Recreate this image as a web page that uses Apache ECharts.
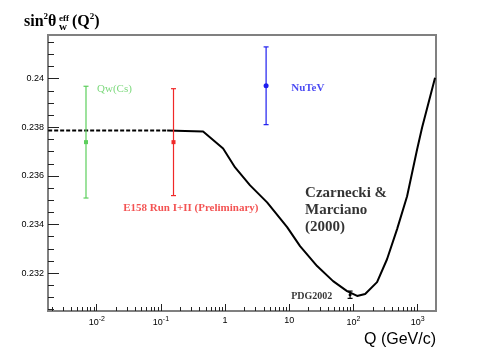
<!DOCTYPE html>
<html>
<head>
<meta charset="utf-8">
<script src="https://cdn.jsdelivr.net/npm/echarts@6/dist/echarts.min.js"></script>
<style>
html, body { margin: 0; padding: 0; background: #fff; }
#main { width: 485px; height: 348px; }
</style>
</head>
<body>
<div id="main"></div>
<script>
// running of sin^2 theta_W (Czarnecki & Marciano 2000), Q in GeV/c
var curveQ = [0.00175, 0.125, 0.454, 0.931, 1.43, 2.45, 4.51, 9.25, 14.7, 27.1, 48.1, 79.4, 114, 152, 233, 333, 478, 684, 979, 1172, 1866];
var curveV = [0.23787, 0.23787, 0.23783, 0.23713, 0.23635, 0.23561, 0.23491, 0.23389, 0.23311, 0.23229, 0.23167, 0.23126, 0.23106, 0.23114, 0.23163, 0.23257, 0.23381, 0.23516, 0.23709, 0.23799, 0.24004];
var dashedUntil = 0.125; // extrapolated part drawn dashed

// measurements
var pointName = ['Qw(Cs)', 'E158', 'NuTeV', 'PDG2002'];
var pointQ = [0.0068, 0.157, 4.35, 88.5];
var pointV = [0.23739, 0.23739, 0.23971, 0.23111];
var pointErr = [0.0023, 0.0022, 0.0016, 0.00015];
var pointColor = ['#5ccf5c', '#f02828', '#1c1cf0', '#000000'];
var pointShape = ['square', 'square', 'circle', 'circle'];

// annotations (anchor = left/middle of text)
var noteText = ['Qw(Cs)', 'E158 Run I+II (Preliminary)', 'NuTeV', 'Czarnecki &\nMarciano\n(2000)', 'PDG2002'];
var noteQ = [0.0101, 0.0258, 10.7, 17.6, 10.7];
var noteV = [0.23959, 0.23467, 0.23963, 0.23458, 0.23106];
var noteStyle = ['qw', 'e158', 'nutev', 'cm', 'pdg'];

// axes
var xMin = 0.00174, xMax = 1930;
var yMin = 0.23044, yMax = 0.2418;
var xMajor = [-2, -1, 0, 1, 2, 3];
var yMajor = [0.232, 0.234, 0.236, 0.238, 0.240];
var yLabels = ['0.232', '0.234', '0.236', '0.238', '0.24'];

var lg = function(q) { return Math.log10(q); };

var xMinor = [];
for (var n = -3; n <= 3; n++) {
  for (var k = 2; k <= 9; k++) {
    var t = lg(k) + n;
    if (t > lg(xMin) && t < lg(xMax)) xMinor.push(t);
  }
}
var yMinor = [];
for (var i = 0; i < 23; i++) {
  var y = +(0.2305 + i * 0.0005).toFixed(4);
  if (y < yMax && yMajor.indexOf(y) < 0) yMinor.push(y);
}

var dashData = [], solidData = [];
for (var i = 0; i < curveQ.length; i++) {
  if (curveQ[i] <= dashedUntil) dashData.push([lg(curveQ[i]), curveV[i]]);
  if (curveQ[i] >= dashedUntil) solidData.push([lg(curveQ[i]), curveV[i]]);
}
var barData = pointQ.map(function(q, i) { return [lg(q), pointV[i], pointErr[i]]; });
var noteData = noteText.map(function(t, i) { return { value: [lg(noteQ[i]), noteV[i]], name: t, style: noteStyle[i] }; });

var serif = 'Liberation Serif';
var sans = 'Liberation Sans';
var chart = echarts.init(document.getElementById('main'));

var tickStyle = { color: '#222', width: 1 };

option = {
  animation: false,
  grid: { left: 48, top: 35, right: 49, bottom: 36, show: true, borderColor: '#808080', borderWidth: 2 },
  graphic: [
    {
      type: 'text', left: 24, top: 12,
      style: {
        text: '{m|sin}{s|2}{m|θ}',
        rich: {
          m: { fontFamily: serif, fontWeight: 'bold', fontSize: 16, lineHeight: 20, fill: '#000' },
          s: { fontFamily: serif, fontWeight: 'bold', fontSize: 9, lineHeight: 20, verticalAlign: 'top', padding: [0, 0, 9, 0], fill: '#000' }
        }
      }
    },
    { type: 'text', left: 59, top: 14, style: { text: 'eff', font: 'bold 9px ' + serif, fill: '#000' } },
    { type: 'text', left: 59, top: 22, style: { text: 'w', font: 'bold 11px ' + serif, fill: '#000' } },
    {
      type: 'text', left: 72, top: 12,
      style: {
        text: '{m|(Q}{s|2}{m|)}',
        rich: {
          m: { fontFamily: serif, fontWeight: 'bold', fontSize: 16, lineHeight: 20, fill: '#000' },
          s: { fontFamily: serif, fontWeight: 'bold', fontSize: 9, lineHeight: 20, verticalAlign: 'top', padding: [0, 0, 9, 0], fill: '#000' }
        }
      }
    }
  ],
  xAxis: [
    {
      type: 'value', min: lg(xMin), max: lg(xMax),
      name: 'Q (GeV/c)', nameLocation: 'end', nameGap: 0,
      nameTextStyle: { fontFamily: sans, fontSize: 16, color: '#000', align: 'right', verticalAlign: 'top', padding: [21, 0, 0, 0] },
      axisLine: { show: true, onZero: false, lineStyle: { color: '#808080', width: 2 } },
      axisTick: { show: true, inside: true, length: 7, customValues: xMajor, lineStyle: tickStyle },
      splitLine: { show: false },
      axisLabel: {
        customValues: xMajor, margin: 5, color: '#000', fontFamily: sans, fontSize: 9,
        formatter: function(v) {
          if (v === 0) return '1';
          if (v === 1) return '10';
          return '10{s|' + v + '}';
        },
        rich: { s: { fontSize: 7, fontFamily: sans, color: '#000', verticalAlign: 'top', padding: [0, 0, 6, 0] } }
      }
    },
    {
      type: 'value', min: lg(xMin), max: lg(xMax), position: 'bottom',
      axisLine: { show: false, onZero: false },
      axisTick: { show: true, inside: true, length: 4, customValues: xMinor, lineStyle: tickStyle },
      axisLabel: { show: false }, splitLine: { show: false }
    }
  ],
  yAxis: [
    {
      type: 'value', min: yMin, max: yMax,
      axisLine: { show: true, onZero: false, lineStyle: { color: '#808080', width: 2 } },
      axisTick: { show: true, inside: true, length: 11, customValues: yMajor, lineStyle: tickStyle },
      splitLine: { show: false },
      axisLabel: {
        customValues: yMajor, margin: 4, color: '#000', fontFamily: sans, fontSize: 9,
        formatter: function(v) { return yLabels[yMajor.indexOf(+v.toFixed(3))]; }
      }
    },
    {
      type: 'value', min: yMin, max: yMax, position: 'left',
      axisLine: { show: false, onZero: false },
      axisTick: { show: true, inside: true, length: 6, customValues: yMinor, lineStyle: tickStyle },
      axisLabel: { show: false }, splitLine: { show: false }
    }
  ],
  series: [
    {
      type: 'line', data: dashData, showSymbol: false, z: 3,
      lineStyle: { color: '#000', width: 2, type: [4, 2] }
    },
    {
      type: 'line', data: solidData, showSymbol: false, z: 3,
      lineStyle: { color: '#000', width: 2 }
    },
    {
      type: 'custom',
      data: barData,
      z: 4,
      renderItem: function(params, api) {
        var c = api.coord([api.value(0), api.value(1)]);
        var top = api.coord([api.value(0), api.value(1) + api.value(2)]);
        var bot = api.coord([api.value(0), api.value(1) - api.value(2)]);
        var col = pointColor[params.dataIndex];
        var cap = 2.5;
        var st = { stroke: col, lineWidth: 1.2 };
        var marker = pointShape[params.dataIndex] === 'square'
          ? { type: 'rect', shape: { x: c[0] - 2, y: c[1] - 2, width: 4, height: 4 }, style: { fill: col } }
          : { type: 'circle', shape: { cx: c[0], cy: c[1], r: params.dataIndex === 3 ? 1.5 : 2.5 }, style: { fill: col } };
        return {
          type: 'group',
          children: [
            { type: 'line', shape: { x1: c[0], y1: top[1], x2: c[0], y2: bot[1] }, style: st },
            { type: 'line', shape: { x1: c[0] - cap, y1: top[1], x2: c[0] + cap, y2: top[1] }, style: st },
            { type: 'line', shape: { x1: c[0] - cap, y1: bot[1], x2: c[0] + cap, y2: bot[1] }, style: st },
            marker
          ]
        };
      }
    },
    {
      type: 'scatter', data: noteData, symbolSize: 0, z: 5, silent: true,
      label: {
        show: true, position: [0, 0], align: 'left', verticalAlign: 'middle',
        formatter: function(p) { return '{' + p.data.style + '|' + p.name.split('\n').join('}\n{' + p.data.style + '|') + '}'; },
        rich: {
          qw: { fontFamily: serif, fontSize: 11, color: '#5ccf5c' },
          e158: { fontFamily: serif, fontWeight: 'bold', fontSize: 11, color: '#f02828' },
          nutev: { fontFamily: serif, fontWeight: 'bold', fontSize: 11, color: '#1c1cf0' },
          cm: { fontFamily: serif, fontWeight: 'bold', fontSize: 15, lineHeight: 17, color: '#000' },
          pdg: { fontFamily: serif, fontWeight: 'bold', fontSize: 10, color: '#000' }
        }
      }
    }
  ]
};
chart.setOption(option);
</script>
</body>
</html>
